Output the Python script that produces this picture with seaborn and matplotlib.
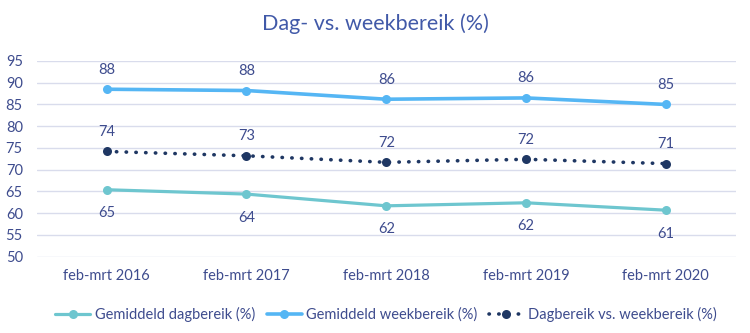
import matplotlib
matplotlib.use("Agg")
import matplotlib.pyplot as plt
import seaborn as sns
import pandas as pd

categories = ["feb-mrt 2016", "feb-mrt 2017", "feb-mrt 2018", "feb-mrt 2019", "feb-mrt 2020"]
dagbereik = [65.4, 64.4, 61.7, 62.4, 60.7]
weekbereik = [88.5, 88.2, 86.2, 86.5, 85.0]
ratio = [74.2, 73.2, 71.7, 72.4, 71.4]
yticks = [50, 55, 60, 65, 70, 75, 80, 85, 90, 95]

sns.set_theme(style="white")
plt.rcParams["font.family"] = ["Lato", "DejaVu Sans"]

TXT = "#3E4C8E"
fig = plt.figure(figsize=(7.5, 3.33), dpi=100)
ax = fig.add_axes([0.049, 0.229, 0.932, 0.588])

x = list(range(len(categories)))
series = [
    ("Gemiddeld dagbereik (%)", dagbereik, "#6EC6CF", "-", 2.3, "below"),
    ("Gemiddeld weekbereik (%)", weekbereik, "#55B6F4", "-", 2.6, "above"),
    ("Dagbereik vs. weekbereik (%)", ratio, "#1F3763", (0, (0.1, 2.6)), 2.6, "above"),
]
for name, vals, col, ls, lw, pos in series:
    df = pd.DataFrame({"x": x, "y": vals})
    sns.lineplot(data=df, x="x", y="y", ax=ax, color=col, linewidth=lw,
                 linestyle=ls, marker="o", markersize=6.5, markeredgewidth=0,
                 label=name, dash_capstyle="round", solid_capstyle="round")
    for xi, v in zip(x, vals):
        off = 14 if pos == "above" else -17
        ax.annotate(f"{round(v):d}", (xi, v), xytext=(0, off), textcoords="offset points",
                    ha="center", va="center", fontsize=10.5, color=TXT)

ax.set_xlim(-0.5, 4.5)
ax.set_ylim(50, 95)
ax.set_yticks(yticks)
ax.set_xticks(x)
ax.set_xticklabels(categories)
ax.set_xlabel("")
ax.set_ylabel("")
ax.yaxis.grid(True, color="#D9DCEC", linewidth=1)
ax.set_axisbelow(True)
for s in ax.spines.values():
    s.set_visible(False)
ax.tick_params(axis="y", labelsize=10.5, labelcolor=TXT, length=0, pad=10)
ax.tick_params(axis="x", labelsize=10.5, labelcolor=TXT, length=0, pad=9)

fig.suptitle("Dag- vs. weekbereik (%)", x=0.5, y=0.96, fontsize=15.5, color="#4159A8")

leg = ax.legend(loc="upper center", bbox_to_anchor=(0.5, -0.19), ncol=3, frameon=False,
                fontsize=10.5, handlelength=2.4, columnspacing=0.8, handletextpad=0.3)
for t in leg.get_texts():
    t.set_color(TXT)

fig.savefig("out.png", dpi=100)
